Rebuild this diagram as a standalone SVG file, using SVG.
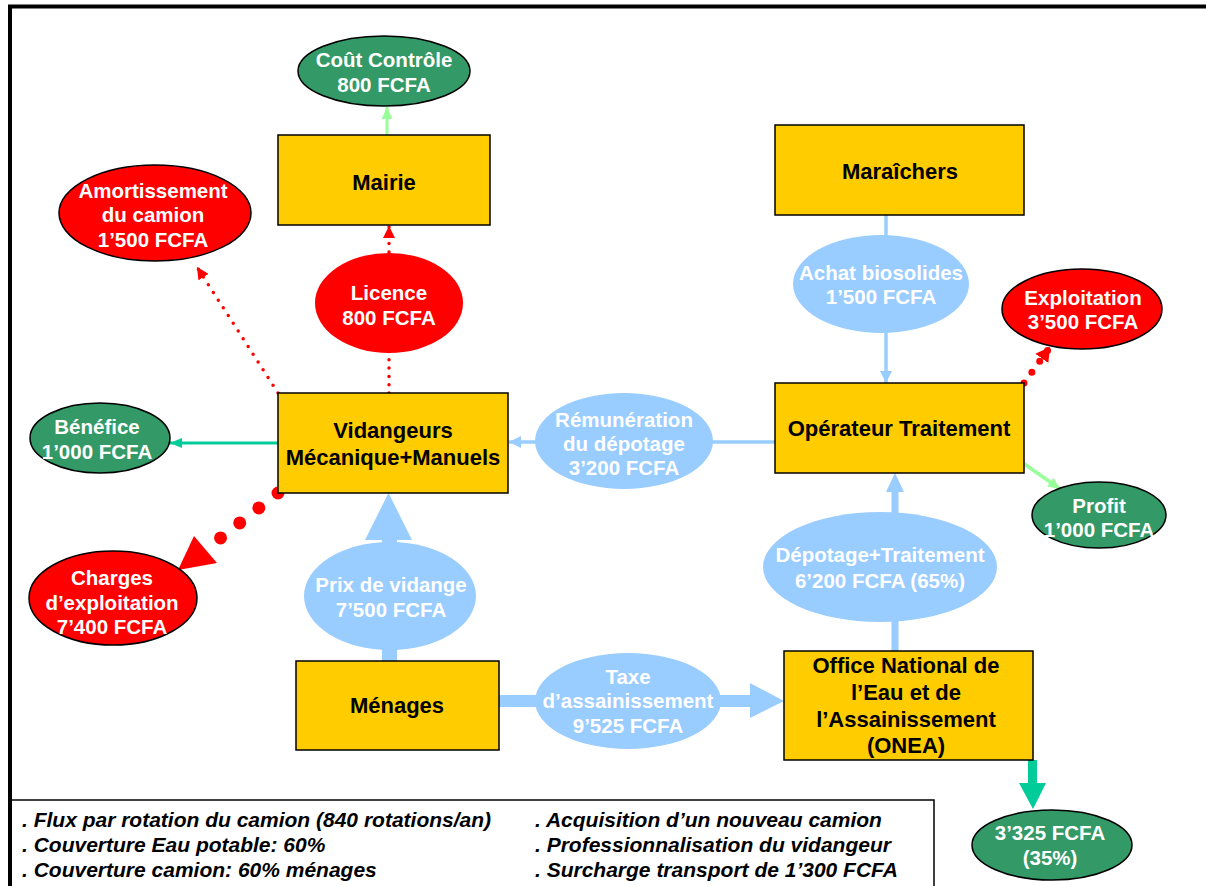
<svg xmlns="http://www.w3.org/2000/svg" width="1206" height="886" viewBox="0 0 1206 886">
  <style>
    text { font-family: "Liberation Sans", Arial, sans-serif; font-weight: bold; text-anchor: middle; }
    .box { fill: #FFCC00; stroke: #000; stroke-width: 1.5; }
    .btxt { font-size: 22px; fill: #000; }
    .etxt { font-size: 20.5px; fill: #fff; }
    .green { fill: #339966; stroke: #000; stroke-width: 1.5; }
    .red { fill: #FF0000; stroke: #000; stroke-width: 1.5; }
    .redn { fill: #FF0000; }
    .blue { fill: #99CCFF; }
    .leg { font-size: 21px; font-style: italic; text-anchor: start; fill: #000; }
    .dot { fill: none; stroke: #FF0000; stroke-linecap: round; }
  </style>
  <defs>
    <marker id="aRed" viewBox="0 0 12 12" refX="12" refY="6" markerWidth="12" markerHeight="12" markerUnits="userSpaceOnUse" orient="auto">
      <path d="M0,0 L12,6 L0,12 z" fill="#FF0000"/>
    </marker>
    <marker id="aRedBig" viewBox="0 0 14 16" refX="14" refY="8" markerWidth="14" markerHeight="16" markerUnits="userSpaceOnUse" orient="auto">
      <path d="M0,0 L14,8 L0,16 z" fill="#FF0000"/>
    </marker>
    <marker id="aBlue" viewBox="0 0 12 12" refX="12" refY="6" markerWidth="12" markerHeight="12" markerUnits="userSpaceOnUse" orient="auto">
      <path d="M0,0 L12,6 L0,12 z" fill="#99CCFF"/>
    </marker>
    <marker id="aLime" viewBox="0 0 12 11" refX="12" refY="5.5" markerWidth="12" markerHeight="11" markerUnits="userSpaceOnUse" orient="auto">
      <path d="M0,0 L12,5.5 L0,11 z" fill="#99FF99"/>
    </marker>
    <marker id="aTeal" viewBox="0 0 12 10" refX="12" refY="5" markerWidth="12" markerHeight="10" markerUnits="userSpaceOnUse" orient="auto">
      <path d="M0,0 L12,5 L0,10 z" fill="#00CC99"/>
    </marker>
  </defs>

  <rect x="0" y="0" width="1206" height="886" fill="#fff"/>
  <!-- frame -->
  <path d="M10,886 V6.5 H1206" fill="none" stroke="#000" stroke-width="4"/>
  <!-- notes panel -->
  <path d="M934,887 V800 H10" fill="none" stroke="#000" stroke-width="1.5"/>

  <g id="connectors">
    <!-- Mairie -> Coût Contrôle -->
    <line x1="387" y1="135" x2="387" y2="107" stroke="#99FF99" stroke-width="3" marker-end="url(#aLime)"/>
    <!-- Vidangeurs -> Mairie (licence) -->
    <line class="dot" x1="389" y1="393" x2="389" y2="226" stroke-width="3.5" stroke-dasharray="0 8.3" marker-end="url(#aRed)"/>
    <!-- Vidangeurs -> Amortissement -->
    <line class="dot" x1="278" y1="393" x2="197" y2="267" stroke-width="3.5" stroke-dasharray="0 9.2" marker-end="url(#aRed)"/>
    <!-- Vidangeurs -> Bénéfice -->
    <line x1="278" y1="443" x2="170" y2="443" stroke="#00CC99" stroke-width="3" marker-end="url(#aTeal)"/>
    <!-- Vidangeurs -> Charges d'exploitation -->
    <line class="dot" x1="278" y1="493" x2="214" y2="543" stroke-width="13" stroke-dasharray="0 24.3"/>
    <polygon points="194,536 217,563 178,570" fill="#FF0000"/>
    <!-- Ménages -> Vidangeurs (prix de vidange) -->
    <rect x="382" y="539" width="15" height="122" fill="#99CCFF"/>
    <polygon points="365,540 412,540 388.5,493" fill="#99CCFF"/>
    <!-- Opérateur -> Vidangeurs (rémunération) -->
    <line x1="775" y1="442" x2="509" y2="442" stroke="#99CCFF" stroke-width="3.5" marker-end="url(#aBlue)"/>
    <!-- Maraîchers -> Opérateur (achat biosolides) -->
    <line x1="886" y1="215" x2="886" y2="383" stroke="#99CCFF" stroke-width="3.5" marker-end="url(#aBlue)"/>
    <!-- Opérateur -> Exploitation -->
    <line class="dot" x1="1024" y1="383" x2="1050" y2="347" stroke-width="7" stroke-dasharray="0 13.4" marker-end="url(#aRedBig)"/>
    <!-- Opérateur -> Profit -->
    <line x1="1023" y1="463" x2="1060" y2="489" stroke="#99FF99" stroke-width="3.5" marker-end="url(#aLime)"/>
    <!-- ONEA -> Opérateur (dépotage + traitement) -->
    <rect x="891.5" y="491" width="7" height="160" fill="#99CCFF"/>
    <polygon points="886,492 904,492 895,473" fill="#99CCFF"/>
    <!-- Ménages -> ONEA (taxe) -->
    <rect x="499" y="695" width="252" height="12" fill="#99CCFF"/>
    <polygon points="750,683 750,718 784,701" fill="#99CCFF"/>
    <!-- ONEA -> 35 % share -->
    <rect x="1028" y="760" width="9" height="24" fill="#00CC99"/>
    <polygon points="1019,783 1046,783 1033,809" fill="#00CC99"/>
  </g>

  <g id="mairie">
    <rect class="box" x="278" y="135" width="212" height="90"/>
    <text class="btxt" x="384" y="190">Mairie</text>
  </g>
  <g id="vidangeurs">
    <rect class="box" x="278" y="393" width="230" height="100"/>
    <text class="btxt" x="393" y="438">Vidangeurs</text>
    <text class="btxt" x="393" y="465">Mécanique+Manuels</text>
  </g>
  <g id="maraichers">
    <rect class="box" x="775" y="125" width="249" height="90"/>
    <text class="btxt" x="900" y="179">Maraîchers</text>
  </g>
  <g id="operateur">
    <rect class="box" x="775" y="383" width="249" height="90"/>
    <text class="btxt" x="899" y="436">Opérateur Traitement</text>
  </g>
  <g id="menages">
    <rect class="box" x="296" y="661" width="203" height="89"/>
    <text class="btxt" x="397" y="713">Ménages</text>
  </g>
  <g id="onea">
    <rect class="box" x="784" y="651" width="249" height="109"/>
    <text class="btxt" x="906" y="673">Office National de</text>
    <text class="btxt" x="906" y="700">l’Eau et de</text>
    <text class="btxt" x="906" y="727">l’Assainissement</text>
    <text class="btxt" x="906" y="753">(ONEA)</text>
  </g>

  <g id="cout-controle">
    <ellipse class="green" cx="384" cy="71" rx="86" ry="35"/>
    <text class="etxt" x="384" y="67">Coût Contrôle</text>
    <text class="etxt" x="384" y="92">800 FCFA</text>
  </g>
  <g id="amortissement">
    <ellipse class="red" cx="155" cy="213" rx="96" ry="48"/>
    <text class="etxt" x="153" y="198">Amortissement</text>
    <text class="etxt" x="153" y="222">du camion</text>
    <text class="etxt" x="153" y="247">1’500 FCFA</text>
  </g>
  <g id="licence">
    <ellipse class="redn" cx="389" cy="303" rx="74" ry="50"/>
    <text class="etxt" x="389" y="300">Licence</text>
    <text class="etxt" x="389" y="325">800 FCFA</text>
  </g>
  <g id="benefice">
    <ellipse class="green" cx="100" cy="438" rx="70" ry="35"/>
    <text class="etxt" x="97" y="434">Bénéfice</text>
    <text class="etxt" x="97" y="459">1’000 FCFA</text>
  </g>
  <g id="charges">
    <ellipse class="red" cx="113" cy="598" rx="84" ry="47"/>
    <text class="etxt" x="112" y="585">Charges</text>
    <text class="etxt" x="112" y="610">d’exploitation</text>
    <text class="etxt" x="112" y="634">7’400 FCFA</text>
  </g>
  <g id="prix-vidange">
    <ellipse class="blue" cx="390" cy="596" rx="86" ry="54"/>
    <text class="etxt" x="391" y="592">Prix de vidange</text>
    <text class="etxt" x="391" y="617">7’500 FCFA</text>
  </g>
  <g id="remuneration">
    <ellipse class="blue" cx="624" cy="441" rx="89" ry="48"/>
    <text class="etxt" x="624" y="427">Rémunération</text>
    <text class="etxt" x="624" y="451">du dépotage</text>
    <text class="etxt" x="624" y="475">3’200 FCFA</text>
  </g>
  <g id="achat-biosolides">
    <ellipse class="blue" cx="881" cy="284" rx="88" ry="49"/>
    <text class="etxt" x="881" y="280">Achat biosolides</text>
    <text class="etxt" x="881" y="304">1’500 FCFA</text>
  </g>
  <g id="exploitation">
    <ellipse class="red" cx="1082" cy="309" rx="80" ry="40"/>
    <text class="etxt" x="1083" y="305">Exploitation</text>
    <text class="etxt" x="1083" y="329">3’500 FCFA</text>
  </g>
  <g id="profit">
    <ellipse class="green" cx="1099" cy="515" rx="67" ry="33"/>
    <text class="etxt" x="1099" y="513">Profit</text>
    <text class="etxt" x="1099" y="537">1’000 FCFA</text>
  </g>
  <g id="depotage">
    <ellipse class="blue" cx="880" cy="567" rx="117" ry="55"/>
    <text class="etxt" x="880" y="562">Dépotage+Traitement</text>
    <text class="etxt" x="880" y="588">6’200 FCFA (65%)</text>
  </g>
  <g id="taxe">
    <ellipse class="blue" cx="628" cy="701" rx="93" ry="48"/>
    <text class="etxt" x="628" y="684">Taxe</text>
    <text class="etxt" x="628" y="708">d’assainissement</text>
    <text class="etxt" x="628" y="733">9’525 FCFA</text>
  </g>
  <g id="part-onea">
    <ellipse class="green" cx="1052" cy="845" rx="80" ry="35"/>
    <text class="etxt" x="1050" y="840">3’325 FCFA</text>
    <text class="etxt" x="1050" y="865">(35%)</text>
  </g>

  <g id="notes">
    <text class="leg" x="22" y="827">. Flux par rotation du camion (840 rotations/an)</text>
    <text class="leg" x="22" y="852">. Couverture Eau potable: 60%</text>
    <text class="leg" x="22" y="877">. Couverture camion: 60% ménages</text>
    <text class="leg" x="535" y="827">. Acquisition d’un nouveau camion</text>
    <text class="leg" x="535" y="852">. Professionnalisation du vidangeur</text>
    <text class="leg" x="535" y="877">. Surcharge transport de 1’300 FCFA</text>
  </g>
</svg>
